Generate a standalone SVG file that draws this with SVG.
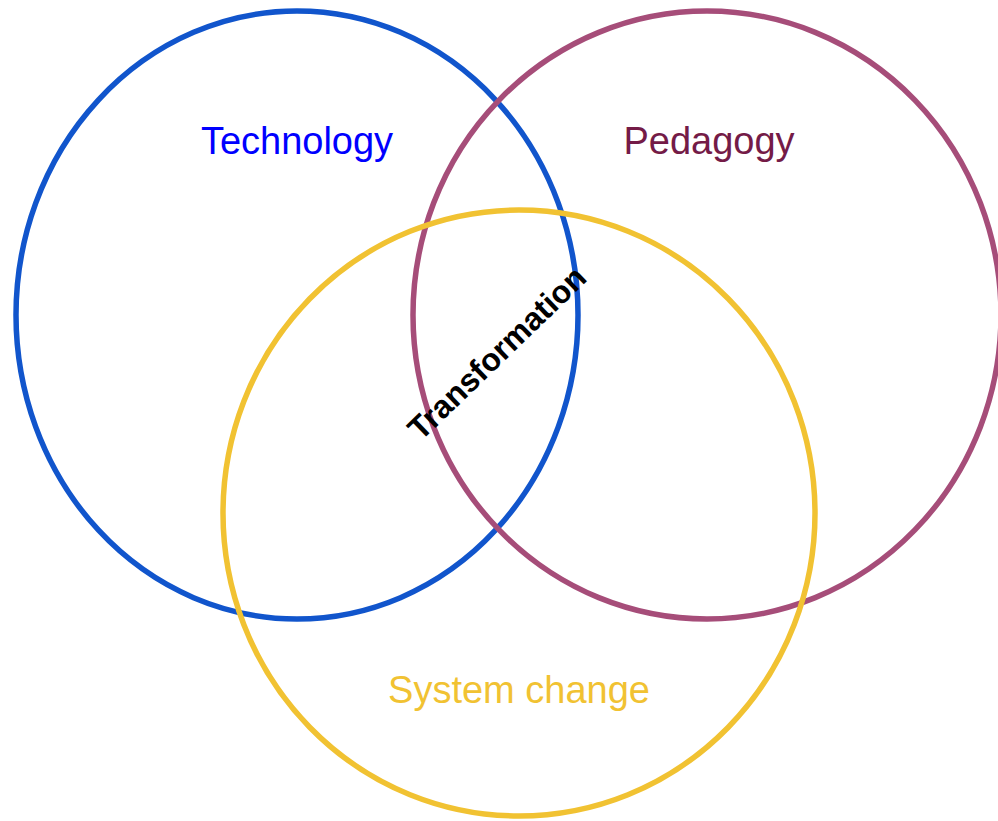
<svg xmlns="http://www.w3.org/2000/svg" width="998" height="821" viewBox="0 0 998 821">
<style>
.c{fill:none;stroke-width:5.5}
.l{font-family:"Liberation Sans",Arial,sans-serif;font-size:38px;text-anchor:middle}
</style>
<rect width="998" height="821" fill="#fff"/>
<g id="technology">
<ellipse class="c" cx="297" cy="315" rx="281" ry="304" stroke="#1155CC"/>
<text class="l" x="297" y="154" fill="#0000FF">Technology</text>
</g>
<g id="pedagogy">
<ellipse class="c" cx="707" cy="315" rx="294" ry="304" stroke="#A64D79"/>
<text class="l" x="709" y="154" fill="#741B47">Pedagogy</text>
</g>
<g id="system-change">
<ellipse class="c" cx="519" cy="513" rx="296" ry="303" stroke="#F1C232"/>
<text class="l" x="519" y="703" fill="#F1C232">System change</text>
</g>
<g id="transformation">
<text transform="translate(497,353) rotate(-44)" x="0" y="11" font-family="Liberation Sans,Arial,sans-serif" font-weight="bold" font-size="32" text-anchor="middle" fill="#000">Transformation</text>
</g>
<g id="connectors"/>
</svg>
